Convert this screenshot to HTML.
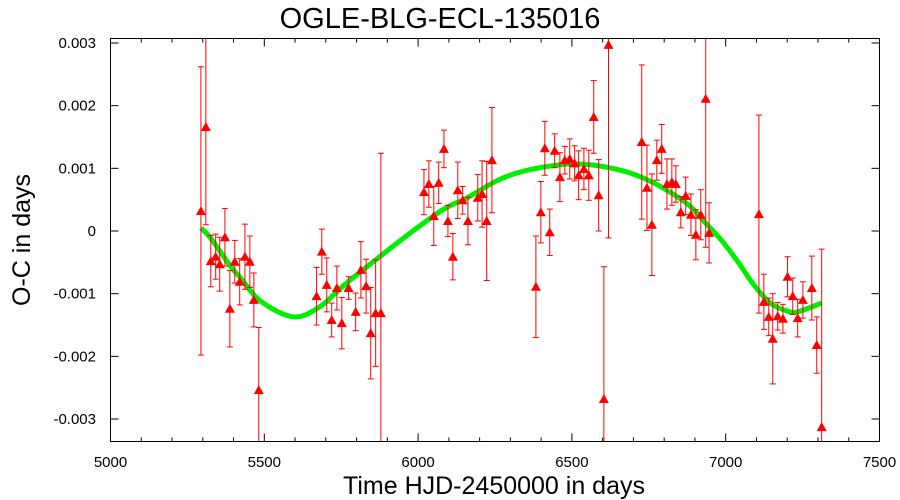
<!DOCTYPE html>
<html><head><meta charset="utf-8"><style>
body{margin:0;background:#fff;}
svg{display:block;font-family:"Liberation Sans",sans-serif;}
</style></head><body>
<svg id="chart" width="900" height="500">
<text x="440" y="28" font-size="29" text-anchor="middle">OGLE-BLG-ECL-135016</text>
<text transform="translate(30,240) rotate(-90)" font-size="25" text-anchor="middle">O-C in days</text>
<text x="494" y="494" font-size="25" text-anchor="middle">Time HJD-2450000 in days</text>
<g id="axes"></g>
<g id="curve"></g>
<g id="points"></g>
<rect x="110.5" y="38.5" width="769" height="403" fill="none" stroke="#000" stroke-width="1"/>
</svg>
<script>
const times=[5294,5310,5326,5342,5355,5372,5388,5404,5420,5437,5453,5466,5482,5670,5687,5703,5719,5736,5752,5774,5797,5814,5831,5846,5862,5879,6019,6035,6051,6067,6084,6097,6113,6129,6145,6162,6194,6208,6223,6240,6383,6399,6412,6428,6444,6461,6477,6493,6509,6522,6539,6555,6571,6587,6604,6619,6727,6744,6760,6776,6792,6809,6825,6838,6854,6870,6887,6903,6919,6935,6946,7108,7124,7140,7153,7169,7186,7201,7218,7234,7251,7280,7296,7312];
const ocValues=[0.32,1.66,-0.48,-0.41,-0.53,-0.10,-1.24,-0.49,-0.81,-0.41,-0.49,-1.10,-2.54,-1.04,-0.33,-0.86,-1.42,-0.91,-1.47,-0.91,-1.29,-0.62,-0.88,-1.63,-1.31,-1.31,0.62,0.75,0.24,0.77,1.31,0.16,-0.41,0.65,0.49,0.16,0.53,0.59,0.16,1.13,-0.89,0.30,1.32,-0.02,1.28,0.86,1.13,1.15,1.08,0.89,0.99,0.89,1.82,0.57,-2.68,2.97,1.42,0.69,0.10,1.13,1.31,0.75,0.78,0.75,0.30,0.56,0.26,-0.06,0.26,2.11,-0.03,0.27,-1.13,-1.37,-1.72,-1.36,-1.40,-0.73,-1.04,-1.39,-1.10,-0.91,-1.82,-3.13];
const ocErrors=[2.30,1.56,0.41,0.36,0.43,0.46,0.61,0.34,0.37,0.52,0.41,0.43,1.00,0.46,0.36,0.43,0.27,0.35,0.41,0.18,0.30,0.45,0.43,0.73,0.85,2.55,0.36,0.37,0.47,0.33,0.30,0.25,0.37,0.45,0.22,0.38,0.37,0.53,0.95,0.84,0.81,0.49,0.43,0.37,0.27,0.39,0.22,0.32,0.28,0.39,0.33,0.40,0.58,0.57,2.11,3.08,1.23,0.68,0.81,0.32,0.39,0.40,0.37,0.29,0.25,0.30,0.33,0.40,0.40,2.37,0.48,1.58,0.44,0.30,0.72,0.22,0.23,0.32,0.29,0.30,0.29,0.51,0.45,2.84];
const fitTimes=[5294,5325,5390,5423,5488,5595,5683,5780,6050,6160,6268,6375,6518,6658,6765,6876,6928,6983,7038,7090,7145,7201,7234,7312];
const fitValues=[0.05,-0.11,-0.56,-0.75,-1.12,-1.37,-1.20,-0.78,0.24,0.53,0.83,0.99,1.07,0.97,0.77,0.43,0.16,-0.13,-0.48,-0.85,-1.15,-1.28,-1.29,-1.15];
const xTicks=[5000,5500,6000,6500,7000,7500];
const yTicks=[-3,-2,-1,0,1,2,3];
const yTickLabels=["-0.003","-0.002","-0.001","0","0.001","0.002","0.003"];

const L=110.5,R=879.5,T=38.5,B=441.5;
const xs=t=>L+(t-5000)*(R-L)/2500;
const ys=v=>231-v*62.67;
const NS="http://www.w3.org/2000/svg";
function mk(tag,attrs,parent){const e=document.createElementNS(NS,tag);for(const k in attrs)e.setAttribute(k,attrs[k]);parent.appendChild(e);return e;}
const ax=document.getElementById('axes');
for(let t=5000;t<=7500;t+=100){
  const maj=(t%500===0);const len=maj?8:4;
  const l1=mk('line',{x1:xs(t),x2:xs(t),y1:B,y2:B-len,stroke:'#000'},ax);
  
  
  mk('line',{x1:xs(t),x2:xs(t),y1:T,y2:T+len,stroke:'#000'},ax);
}
xTicks.forEach(t=>{
  const tx=mk('text',{x:xs(t),y:467,'font-size':15,'text-anchor':'middle'},ax);
  tx.textContent=t;
  
  
});
yTicks.forEach((v,i)=>{
  const y=ys(v);
  mk('line',{x1:L,x2:L+8,y1:y,y2:y,stroke:'#000'},ax);
  mk('line',{x1:R,x2:R-8,y1:y,y2:y,stroke:'#000'},ax);
  const tx=mk('text',{x:96,y:y+5,'font-size':15,'text-anchor':'end'},ax);
  tx.textContent=yTickLabels[i];
  
  
});
const cv=document.getElementById('curve');
const P=fitTimes.map((t,i)=>[xs(t),ys(fitValues[i])]);
let d='M'+P[0][0]+','+P[0][1];
for(let i=0;i<P.length-1;i++){
  const p0=P[Math.max(0,i-1)],p1=P[i],p2=P[i+1],p3=P[Math.min(P.length-1,i+2)];
  const c1=[p1[0]+(p2[0]-p0[0])/6,p1[1]+(p2[1]-p0[1])/6];
  const c2=[p2[0]-(p3[0]-p1[0])/6,p2[1]-(p3[1]-p1[1])/6];
  d+=' C'+c1+' '+c2+' '+p2;
}
const path=mk('path',{d:d,fill:'none',stroke:'#00ee00','stroke-width':5,'stroke-linejoin':'round'},cv);


const pg=document.getElementById('points');
const clip=y=>Math.max(T,Math.min(B,y));
times.forEach((t,i)=>{
  const x=xs(t),y=ys(ocValues[i]);
  const y1=ys(ocValues[i]+ocErrors[i]),y2=ys(ocValues[i]-ocErrors[i]);
  const g=mk('g',{},pg);
  
  
  mk('line',{x1:x,x2:x,y1:clip(y1),y2:clip(y2),stroke:'#f00','stroke-width':1},g);
  if(y1>=T) mk('line',{x1:x-3,x2:x+3,y1:y1,y2:y1,stroke:'#f00'},g);
  if(y2<=B) mk('line',{x1:x-3,x2:x+3,y1:y2,y2:y2,stroke:'#f00'},g);
  mk('polygon',{points:`${x},${y-5} ${x-5},${y+4} ${x+5},${y+4}`,fill:'#f00'},g);
});
</script>
</body></html>
